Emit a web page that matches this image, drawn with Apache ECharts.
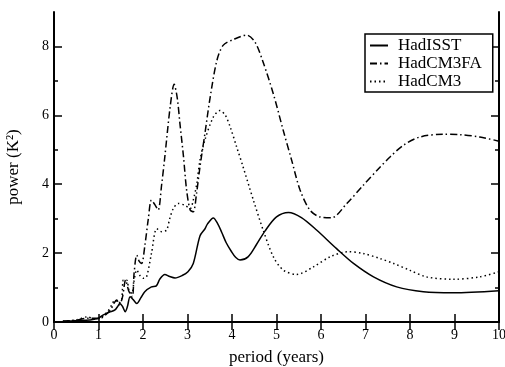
<!DOCTYPE html>
<html><head><meta charset="utf-8">
<script src="https://cdn.jsdelivr.net/npm/echarts@6/dist/echarts.min.js"></script>
<style>html,body{margin:0;padding:0;background:#fff}#c{width:505px;height:367px}</style>
</head><body><div id="c"></div>
<script>
var xTicks = [0,1,2,3,4,5,6,7,8,9,10];
var yMajor = [0,2,4,6,8];
var yMinor = [1,3,5,7];

var isstX = [0.2,0.4,0.6,0.81,0.9,1.0,1.1,1.18,1.28,1.37,1.43,1.48,1.54,1.6,1.65,1.71,1.78,1.86,1.95,2.04,2.19,2.3,2.38,2.49,2.6,2.72,2.88,3.01,3.13,3.28,3.39,3.45,3.58,3.68,3.77,3.87,3.99,4.08,4.18,4.36,4.55,4.74,5.0,5.27,5.56,5.9,6.35,6.73,7.18,7.7,8.3,8.97,10];
var isstY = [0.02,0.03,0.04,0.06,0.08,0.11,0.2,0.25,0.3,0.35,0.45,0.54,0.45,0.3,0.45,0.73,0.65,0.54,0.7,0.88,1.02,1.05,1.25,1.38,1.32,1.28,1.35,1.46,1.7,2.5,2.7,2.85,3.02,2.85,2.6,2.3,2.04,1.88,1.8,1.89,2.25,2.64,3.05,3.18,3.03,2.67,2.13,1.7,1.31,1.02,0.88,0.85,0.91];

var faX = [0.2,0.5,0.75,1.05,1.15,1.27,1.35,1.41,1.47,1.54,1.61,1.68,1.76,1.8,1.86,1.92,1.97,2.04,2.12,2.19,2.27,2.34,2.42,2.49,2.61,2.7,2.77,2.83,2.91,2.98,3.06,3.13,3.2,3.28,3.39,3.51,3.66,3.8,4.03,4.33,4.52,4.7,4.93,5.15,5.34,5.53,5.75,5.98,6.24,6.58,6.95,7.33,7.55,7.85,8.22,8.75,9.12,9.57,10];
var faY = [0.02,0.05,0.11,0.11,0.2,0.35,0.55,0.64,0.5,0.73,1.22,0.9,0.73,1.42,1.94,1.75,1.7,2.2,3.0,3.54,3.4,3.25,4.0,4.79,6.24,6.9,6.5,5.76,4.8,3.83,3.25,3.2,3.7,4.5,5.46,6.53,7.59,8.03,8.2,8.33,8.12,7.54,6.62,5.57,4.7,3.83,3.25,3.05,3.03,3.44,3.97,4.5,4.79,5.13,5.37,5.45,5.44,5.37,5.25];

var cm3X = [0.2,0.5,0.75,0.9,1.05,1.2,1.3,1.37,1.45,1.52,1.56,1.63,1.69,1.75,1.8,1.86,1.93,2.01,2.08,2.19,2.31,2.42,2.53,2.6,2.68,2.79,2.94,3.06,3.13,3.21,3.28,3.39,3.58,3.73,3.85,3.96,4.1,4.25,4.48,4.7,4.93,5.15,5.45,5.83,6.2,6.6,6.95,7.33,7.63,8.0,8.37,8.97,9.57,10];
var cm3Y = [0.02,0.06,0.15,0.08,0.12,0.3,0.5,0.64,0.55,0.64,1.22,1.22,0.9,0.83,1.2,1.51,1.35,1.27,1.31,1.99,2.71,2.62,2.67,3.0,3.29,3.44,3.39,3.29,3.54,4.02,4.7,5.28,5.95,6.14,6.0,5.66,5.1,4.5,3.54,2.67,1.89,1.51,1.38,1.6,1.89,2.04,1.99,1.84,1.7,1.5,1.31,1.24,1.31,1.46];

function pairs(xs, ys){ return xs.map(function(x,i){ return [x, ys[i]]; }); }

var font = '"Liberation Serif", "Times New Roman", serif';
var axLine = {show:true, lineStyle:{color:'#000', width:2}};

var chart = echarts.init(document.getElementById('c'), null, {renderer:'canvas'});
chart.setOption({
  animation:false,
  backgroundColor:'#fff',
  grid:{left:54, right:6, top:12, bottom:45, containLabel:false, outerBoundsMode:'none'},
  legend:{
    orient:'vertical', left:365, top:34,
    backgroundColor:'#fff', borderColor:'#000', borderWidth:1.5,
    padding:[3,11,2,4], itemGap:1, itemWidth:18, itemHeight:17,
    itemStyle:{color:'rgba(0,0,0,0)', borderWidth:0, opacity:0},
    textStyle:{fontFamily:font, fontSize:17, color:'#000', padding:[0,0,0,5]},
    data:['HadISST','HadCM3FA','HadCM3']
  },
  xAxis:[
    {type:'value', min:0, max:10, interval:1, position:'bottom',
     axisLine:axLine, splitLine:{show:false},
     axisTick:{show:true, inside:true, length:8, lineStyle:{color:'#000', width:1.5}},
     axisLabel:{fontFamily:font, fontSize:14, color:'#000', margin:6},
     name:'period (years)', nameLocation:'middle', nameGap:27,
     nameTextStyle:{fontFamily:font, fontSize:17, color:'#000'}},
    {type:'value', min:0, max:10, interval:1, position:'top',
     axisLine:axLine, splitLine:{show:false},
     axisTick:{show:true, inside:true, length:8, lineStyle:{color:'#000', width:1.5}},
     axisLabel:{show:false}}
  ],
  yAxis:[
    {type:'value', min:0, max:9, position:'left',
     axisLine:axLine, splitLine:{show:false},
     axisTick:{show:true, inside:true, length:8, customValues:yMajor, lineStyle:{color:'#000', width:1.5}},
     axisLabel:{fontFamily:font, fontSize:14, color:'#000', margin:5, customValues:yMajor},
     name:'power (K²)', nameLocation:'middle', nameGap:32,
     nameTextStyle:{fontFamily:font, fontSize:17, color:'#000'}},
    {type:'value', min:0, max:9, position:'left',
     axisLine:{show:false}, splitLine:{show:false},
     axisTick:{show:true, inside:true, length:4, customValues:yMinor, lineStyle:{color:'#000', width:1.5}},
     axisLabel:{show:false}},
    {type:'value', min:0, max:9, position:'right',
     axisLine:axLine, splitLine:{show:false},
     axisTick:{show:true, inside:true, length:8, customValues:yMajor, lineStyle:{color:'#000', width:1.5}},
     axisLabel:{show:false}},
    {type:'value', min:0, max:9, position:'right',
     axisLine:{show:false}, splitLine:{show:false},
     axisTick:{show:true, inside:true, length:4, customValues:yMinor, lineStyle:{color:'#000', width:1.5}},
     axisLabel:{show:false}}
  ],
  series:[
    {name:'HadISST', type:'line', data:pairs(isstX, isstY), showSymbol:false, symbol:'none', smooth:0.3,
     lineStyle:{color:'#000', width:1.5, type:'solid'}, itemStyle:{color:'#000'}},
    {name:'HadCM3FA', type:'line', data:pairs(faX, faY), showSymbol:false, symbol:'none', smooth:0.3,
     lineStyle:{color:'#000', width:1.5, type:[7,3,1.5,3]}, itemStyle:{color:'#000'}},
    {name:'HadCM3', type:'line', data:pairs(cm3X, cm3Y), showSymbol:false, symbol:'none', smooth:0.3,
     lineStyle:{color:'#000', width:1.5, type:[1.5,3]}, itemStyle:{color:'#000'}}
  ]
});
</script></body></html>
